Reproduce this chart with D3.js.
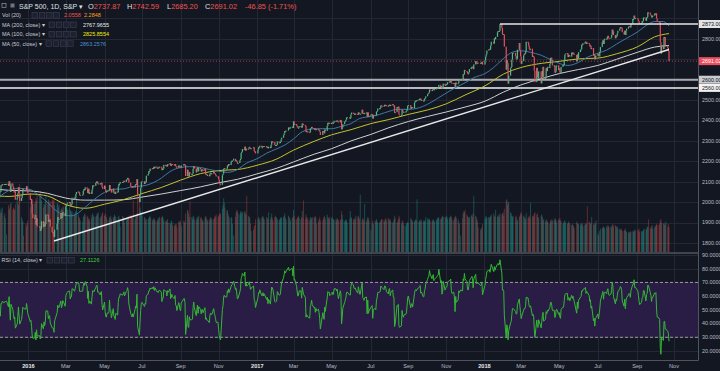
<!DOCTYPE html>
<html>
<head>
<meta charset="utf-8">
<script src="https://cdn.jsdelivr.net/npm/d3@7"></script>
<style>
  html, body { margin: 0; padding: 0; background: #131722; overflow: hidden; }
  svg { display: block; font-family: "Liberation Sans", Arial, sans-serif; }
</style>
</head>
<body>
<svg id="chart" width="720" height="371"></svg>
<script>
// daily closes, one row per week (Mon..Fri), null = market holiday
const closes2015 = [ // from 2015-10-26
    2071, 2066, 2090, 2089, 2079,
    2104, 2109, 2102, 2099, 2099,
    2078, 2081, 2076, 2045, 2023,
    2053, 2051, 2083, 2082, 2089,
    2086, 2089, 2089, null, 2090,
    2080, 2103, 2079, 2050, 2092,
    2077, 2063, 2048, 2053, 2012,
    2022, 2043, 2073, 2041, 2006,
    2021, 2038, 2064, 2061, null,
    2057, 2078, 2064, 2044
];
const closes2016 = [ // from 2016-01-01
    null,
    2012, 2016, 1990, 1943, 1922,
    1923, 1938, 1890, 1921, 1880,
    null, 1881, 1859, 1869, 1907,
    1878, 1903, 1882, 1893, 1940,
    1939, 1903, 1913, 1915, 1880,
    1853, 1852, 1851, 1829, 1865,
    null, 1895, 1927, 1918, 1918,
    1946, 1921, 1929, 1951, 1948,
    1932, 1978, 1987, 1994, 1999,
    2001, 1980, 1989, 1989, 2022,
    2019, 2016, 2027, 2040, 2050,
    2052, 2049, 2036, 2036, null,
    2037, 2055, 2064, 2060, 2073,
    2066, 2045, 2066, 2041, 2048,
    2041, 2062, 2082, 2082, 2080,
    2094, 2100, 2102, 2091, 2092,
    2087, 2092, 2095, 2075, 2065,
    2081, 2063, 2051, 2050, 2057,
    2058, 2084, 2064, 2064, 2047,
    2066, 2047, 2047, 2040, 2052,
    2048, 2076, 2090, 2090, 2099,
    null, 2097, 2100, 2105, 2099,
    2110, 2112, 2119, 2115, 2096,
    2079, 2075, 2072, 2077, 2071,
    2083, 2089, 2086, 2113, 2038,
    2001, 2037, 2071, 2099, 2103,
    null, 2089, 2100, 2098, 2130,
    2138, 2152, 2152, 2164, 2162,
    2167, 2164, 2173, 2166, 2175,
    2168, 2169, 2167, 2171, 2174,
    2171, 2157, 2164, 2164, 2183,
    2181, 2181, 2175, 2186, 2184,
    2191, 2179, 2182, 2187, 2184,
    2182, 2187, 2176, 2175, 2169,
    2180, 2177, 2171, 2170, 2180,
    null, 2186, 2186, 2182, 2128,
    2159, 2127, 2126, 2147, 2139,
    2139, 2140, 2164, 2177, 2165,
    2146, 2160, 2171, 2151, 2168,
    2161, 2150, 2160, 2160, 2153,
    2164, 2136, 2139, 2133, 2133,
    2127, 2140, 2144, 2141, 2141,
    2151, 2143, 2139, 2133, 2126,
    2126, 2111, 2097, 2088, 2085,
    2132, 2140, 2163, 2167, 2164,
    2164, 2180, 2177, 2187, 2182,
    2198, 2203, 2204, null, 2213,
    2202, 2205, 2199, 2191, 2192,
    2205, 2212, 2241, 2246, 2260,
    2257, 2272, 2253, 2262, 2258,
    2263, 2271, 2266, 2261, 2264,
    null, 2269, 2250, 2249, 2239
];
const closes2017 = [ // from 2017-01-02
    null, 2258, 2270, 2269, 2277,
    2269, 2269, 2275, 2271, 2275,
    null, 2268, 2272, 2264, 2271,
    2265, 2281, 2298, 2297, 2295,
    2280, 2279, 2280, 2281, 2297,
    2293, 2293, 2295, 2307, 2316,
    2328, 2337, 2349, 2347, 2351,
    null, 2366, 2363, 2364, 2367,
    2370, 2364, 2396, 2381, 2383,
    2375, 2368, 2363, 2365, 2373,
    2373, 2365, 2386, 2382, 2378,
    2374, 2344, 2348, 2346, 2344,
    2342, 2359, 2362, 2369, 2363,
    2359, 2360, 2353, 2358, 2355,
    2357, 2353, 2345, 2329, null,
    2349, 2342, 2338, 2356, 2349,
    2374, 2389, 2388, 2389, 2384,
    2388, 2391, 2388, 2389, 2399,
    2399, 2397, 2400, 2395, 2391,
    2403, 2400, 2357, 2366, 2382,
    2394, 2398, 2404, 2415, 2416,
    null, 2412, 2412, 2430, 2439,
    2437, 2433, 2433, 2434, 2432,
    2429, 2440, 2437, 2433, 2433,
    2453, 2437, 2436, 2434, 2438,
    2439, 2419, 2440, 2419, 2423,
    2429, null, 2432, 2410, 2425,
    2427, 2425, 2443, 2447, 2459,
    2460, 2461, 2474, 2473, 2472,
    2470, 2477, 2477, 2475, 2472,
    2470, 2476, 2478, 2472, 2476,
    2480, 2474, 2474, 2438, 2441,
    2466, 2465, 2468, 2430, 2426,
    2428, 2453, 2444, 2439, 2443,
    2444, 2446, 2457, 2472, 2476,
    null, 2458, 2465, 2466, 2461,
    2488, 2496, 2498, 2496, 2500,
    2503, 2506, 2508, 2500, 2502,
    2497, 2497, 2507, 2510, 2519,
    2529, 2534, 2537, 2552, 2549,
    2545, 2551, 2555, 2550, 2553,
    2557, 2559, 2561, 2562, 2575,
    2565, 2569, 2557, 2560, 2581,
    2572, 2575, 2579, 2579, 2588,
    2591, 2591, 2594, 2585, 2582,
    2584, 2579, 2565, 2586, 2579,
    2583, 2599, 2597, null, 2602,
    2601, 2628, 2626, 2648, 2642,
    2639, 2630, 2629, 2637, 2652,
    2660, 2664, 2662, 2652, 2675,
    2691, 2681, 2679, 2684, 2683,
    null, 2680, 2682, 2688, 2674
];
const closes2018 = [ // from 2018-01-01
    null, 2696, 2713, 2724, 2743,
    2748, 2751, 2748, 2767, 2786,
    null, 2777, 2803, 2798, 2810,
    2833, 2839, 2837, 2839, 2873,
    2853, 2823, 2824, 2821, 2762,
    2649, 2695, 2681, 2581, 2620,
    2656, 2662, 2698, 2731, 2732,
    null, 2716, 2702, 2703, 2747,
    2780, 2744, 2714, 2678, 2691,
    2720, 2728, 2727, 2739, 2786,
    2783, 2765, 2749, 2747, 2752,
    2712, 2717, 2711, 2644, 2588,
    2658, 2613, 2605, 2641, null,
    2582, 2614, 2644, 2663, 2604,
    2613, 2656, 2642, 2663, 2657,
    2678, 2706, 2708, 2693, 2670,
    2670, 2635, 2639, 2667, 2670,
    2648, 2655, 2636, 2630, 2663,
    2672, 2672, 2697, 2723, 2728,
    2730, 2711, 2722, 2720, 2713,
    2733, 2725, 2733, 2727, 2721,
    null, 2690, 2724, 2705, 2735,
    2747, 2749, 2772, 2771, 2779,
    2782, 2787, 2775, 2782, 2780,
    2774, 2763, 2767, 2750, 2755,
    2718, 2724, 2700, 2716, 2718,
    2727, 2714, null, 2737, 2760,
    2784, 2793, 2775, 2798, 2801,
    2798, 2809, 2815, 2804, 2802,
    2806, 2820, 2846, 2838, 2819,
    2803, 2816, 2813, 2827, 2840,
    2850, 2858, 2857, 2853, 2833,
    2822, 2840, 2819, 2840, 2850,
    2858, 2863, 2861, 2856, 2875,
    2897, 2897, 2914, 2901, 2902,
    null, 2896, 2888, 2878, 2872,
    2877, 2887, 2888, 2904, 2905,
    2889, 2904, 2907, 2930, 2929,
    2919, 2915, 2905, 2914, 2914,
    2924, 2923, 2925, 2901, 2886,
    2884, 2881, 2785, 2728, 2767,
    2750, 2809, 2809, 2768, 2768,
    2756, 2741, 2691.02
];

// daily volume, tenths of a billion, same layout as the closes
const volumes2015 = [
    31, 34, 37, 36, 38,
    34, 36, 35, 33, 35,
    33, 32, 35, 36, 38,
    35, 33, 37, 34, 38,
    31, 33, 29, null, 15,
    40, 36, 38, 41, 42,
    36, 38, 37, 36, 41,
    45, 42, 40, 44, 58,
    30, 28, 26, 14, null,
    24, 22, 25, 27
];
const volumes2016 = [
    null,
    38, 43, 42, 45, 44,
    41, 43, 46, 44, 50,
    null, 47, 52, 48, 44,
    38, 41, 40, 43, 48,
    42, 45, 44, 41, 43,
    44, 47, 43, 45, 40,
    null, 41, 42, 38, 40,
    36, 37, 38, 36, 39,
    42, 41, 38, 37, 36,
    38, 36, 35, 33, 35,
    33, 31, 34, 35, 48,
    32, 30, 29, 27, null,
    26, 30, 31, 33, 32,
    30, 31, 28, 29, 27,
    29, 32, 33, 30, 31,
    30, 31, 33, 32, 34,
    29, 30, 31, 33, 34,
    31, 33, 32, 30, 28,
    27, 30, 29, 31, 28,
    30, 29, 32, 31, 30,
    26, 30, 31, 28, 22,
    null, 31, 30, 29, 25,
    27, 28, 30, 29, 31,
    32, 30, 31, 29, 44,
    28, 30, 31, 33, 52,
    44, 38, 35, 34, 31,
    null, 30, 29, 27, 28,
    28, 29, 30, 31, 29,
    27, 28, 29, 28, 27,
    26, 27, 29, 28, 30,
    29, 30, 31, 29, 27,
    26, 27, 26, 28, 25,
    25, 24, 27, 26, 23,
    22, 24, 23, 24, 21,
    26, 25, 27, 26, 22,
    null, 27, 25, 26, 33,
    36, 35, 33, 30, 43,
    30, 28, 31, 30, 28,
    27, 29, 30, 28, 31,
    29, 30, 28, 27, 26,
    29, 31, 30, 28, 27,
    28, 27, 30, 29, 28,
    28, 29, 31, 30, 32,
    30, 31, 33, 32, 33,
    37, 40, 46, 42, 38,
    35, 36, 33, 31, 29,
    30, 29, 24, null, 14,
    30, 34, 36, 35, 33,
    32, 34, 35, 33, 34,
    34, 35, 33, 32, 48,
    31, 30, 29, 24, 18,
    null, 19, 22, 23, 28
];
const volumes2017 = [
    null, 28, 30, 29, 27,
    29, 30, 31, 29, 28,
    null, 30, 29, 28, 34,
    28, 30, 33, 29, 27,
    30, 31, 30, 29, 28,
    27, 28, 29, 30, 29,
    30, 31, 33, 29, 28,
    null, 31, 30, 29, 27,
    29, 30, 36, 31, 28,
    28, 29, 30, 31, 29,
    28, 30, 35, 29, 44,
    28, 32, 30, 29, 28,
    27, 30, 28, 29, 30,
    29, 30, 31, 29, 24,
    26, 28, 30, 27, null,
    27, 29, 31, 30, 28,
    32, 30, 29, 28, 30,
    29, 30, 28, 28, 27,
    28, 27, 29, 28, 27,
    27, 28, 35, 32, 28,
    26, 27, 28, 27, 25,
    null, 28, 35, 30, 29,
    28, 27, 29, 28, 31,
    30, 31, 29, 28, 49,
    27, 29, 28, 27, 41,
    26, 28, 30, 29, 27,
    19, null, 25, 27, 24,
    26, 27, 28, 26, 25,
    25, 26, 27, 28, 28,
    27, 26, 28, 29, 27,
    29, 28, 27, 28, 26,
    25, 26, 28, 31, 29,
    25, 26, 28, 31, 29,
    24, 26, 27, 25, 23,
    22, 24, 25, 26, 25,
    null, 29, 28, 27, 26,
    26, 27, 28, 27, 45,
    26, 27, 26, 28, 27,
    26, 27, 26, 27, 30,
    28, 29, 27, 28, 27,
    26, 27, 28, 27, 26,
    27, 28, 29, 30, 29,
    28, 29, 30, 31, 30,
    30, 29, 31, 30, 28,
    29, 30, 31, 30, 28,
    27, 29, 30, 31, 29,
    28, 26, 24, null, 14,
    29, 33, 35, 34, 36,
    32, 31, 30, 29, 30,
    31, 32, 30, 33, 48,
    31, 30, 28, 26, 21,
    null, 19, 20, 21, 24
];
const volumes2018 = [
    null, 28, 30, 31, 29,
    30, 29, 30, 31, 32,
    null, 33, 31, 30, 36,
    30, 31, 32, 30, 33,
    32, 33, 34, 31, 37,
    44, 45, 40, 43, 42,
    34, 33, 31, 30, 31,
    null, 30, 31, 28, 27,
    30, 31, 33, 34, 32,
    31, 30, 29, 28, 33,
    29, 30, 31, 29, 42,
    31, 30, 31, 33, 34,
    32, 33, 30, 29, null,
    31, 32, 30, 27, 28,
    26, 28, 27, 26, 25,
    24, 27, 26, 28, 27,
    27, 29, 28, 27, 25,
    28, 27, 29, 27, 26,
    24, 25, 26, 27, 25,
    24, 25, 26, 25, 24,
    23, 24, 23, 22, 20,
    null, 26, 25, 24, 24,
    23, 24, 25, 24, 22,
    23, 24, 25, 24, 39,
    26, 25, 24, 25, 30,
    24, 23, 25, 24, 27,
    16, 14, null, 18, 20,
    20, 21, 22, 21, 20,
    22, 21, 23, 22, 21,
    22, 21, 23, 24, 22,
    23, 22, 21, 22, 20,
    20, 19, 20, 19, 18,
    18, 19, 20, 18, 17,
    17, 16, 17, 18, 17,
    18, 17, 19, 18, 19,
    null, 19, 18, 20, 17,
    18, 17, 18, 19, 20,
    19, 20, 21, 22, 28,
    21, 20, 22, 23, 20,
    21, 22, 23, 24, 23,
    23, 24, 27, 28, 25,
    24, 25, 23, 24, 26,
    22, 24, 21
];
const yearStarts = ["2015-10-26", "2016-01-01", "2017-01-02", "2018-01-01"];

// moving averages
const ma50Points = [
    ["2015-11-16", 2027], ["2015-12-01", 2058], ["2015-12-15", 2068], ["2016-01-04", 2062],
    ["2016-01-15", 2040], ["2016-02-01", 1998], ["2016-02-16", 1955], ["2016-03-01", 1936],
    ["2016-03-10", 1933], ["2016-04-01", 1975], ["2016-04-15", 2012], ["2016-05-02", 2048],
    ["2016-05-16", 2063], ["2016-06-01", 2065], ["2016-06-15", 2076], ["2016-07-01", 2079],
    ["2016-07-15", 2090], ["2016-08-01", 2118], ["2016-08-15", 2150], ["2016-09-01", 2170],
    ["2016-09-15", 2174], ["2016-10-03", 2170], ["2016-10-17", 2160], ["2016-11-01", 2152],
    ["2016-11-15", 2146], ["2016-12-01", 2160], ["2016-12-15", 2190], ["2017-01-03", 2215],
    ["2017-01-17", 2240], ["2017-02-01", 2260], ["2017-02-15", 2280], ["2017-03-01", 2310],
    ["2017-03-15", 2345], ["2017-04-03", 2360], ["2017-04-17", 2360], ["2017-05-01", 2360],
    ["2017-05-15", 2370], ["2017-06-01", 2385], ["2017-06-15", 2410], ["2017-07-03", 2420],
    ["2017-07-17", 2430], ["2017-08-01", 2445], ["2017-08-15", 2455], ["2017-09-01", 2455],
    ["2017-09-15", 2460], ["2017-10-02", 2480], ["2017-10-16", 2505], ["2017-11-01", 2535],
    ["2017-11-15", 2560], ["2017-12-01", 2585], ["2017-12-15", 2610], ["2018-01-02", 2630],
    ["2018-01-16", 2660], ["2018-02-01", 2705], ["2018-02-15", 2735], ["2018-03-01", 2742],
    ["2018-03-15", 2735], ["2018-04-02", 2720], ["2018-04-16", 2700], ["2018-05-01", 2680],
    ["2018-05-15", 2670], ["2018-06-01", 2685], ["2018-06-15", 2710], ["2018-07-02", 2730],
    ["2018-07-16", 2745], ["2018-08-01", 2775], ["2018-08-15", 2800], ["2018-09-04", 2835],
    ["2018-09-17", 2865], ["2018-10-01", 2885], ["2018-10-15", 2885], ["2018-10-24", 2863]
];
const ma100Points = [
    ["2015-11-16", 2030], ["2015-12-01", 2028], ["2016-01-04", 2040], ["2016-02-01", 2030],
    ["2016-03-01", 1988], ["2016-04-01", 1970], ["2016-05-02", 1990], ["2016-06-01", 2012],
    ["2016-07-01", 2042], ["2016-08-01", 2072], ["2016-09-01", 2108], ["2016-10-03", 2140],
    ["2016-11-01", 2155], ["2016-12-01", 2160], ["2017-01-03", 2182], ["2017-02-01", 2210],
    ["2017-03-01", 2255], ["2017-04-03", 2298], ["2017-05-01", 2330], ["2017-06-01", 2355],
    ["2017-07-03", 2385], ["2017-08-01", 2405], ["2017-09-01", 2430], ["2017-10-02", 2452],
    ["2017-11-01", 2482], ["2017-12-01", 2525], ["2018-01-02", 2570], ["2018-02-01", 2628],
    ["2018-03-01", 2660], ["2018-04-02", 2680], ["2018-05-01", 2690], ["2018-06-01", 2702],
    ["2018-07-02", 2706], ["2018-08-01", 2727], ["2018-09-04", 2762], ["2018-10-01", 2810],
    ["2018-10-24", 2826]
];
const ma200Points = [
    ["2015-11-16", 2062], ["2015-12-01", 2058], ["2016-01-04", 2055], ["2016-02-01", 2043],
    ["2016-03-01", 2020], ["2016-04-01", 2010], ["2016-05-02", 2010], ["2016-06-01", 2012],
    ["2016-07-01", 2025], ["2016-08-01", 2040], ["2016-09-01", 2057], ["2016-10-03", 2075],
    ["2016-11-01", 2095], ["2016-12-01", 2112], ["2017-01-03", 2140], ["2017-02-01", 2165],
    ["2017-03-01", 2197], ["2017-04-03", 2235], ["2017-05-01", 2262], ["2017-06-01", 2300],
    ["2017-07-03", 2332], ["2017-08-01", 2365], ["2017-09-01", 2395], ["2017-10-02", 2420],
    ["2017-11-01", 2442], ["2017-12-01", 2466], ["2018-01-02", 2495], ["2018-02-01", 2540],
    ["2018-03-01", 2575], ["2018-04-02", 2605], ["2018-05-01", 2630], ["2018-06-01", 2650],
    ["2018-07-02", 2670], ["2018-08-01", 2700], ["2018-09-04", 2735], ["2018-10-01", 2760],
    ["2018-10-24", 2768]
];

// drawings
const trendAnchors = [["2016-02-11", 1810], ["2018-04-02", 2553]];
const trendEnd = "2018-10-24";
const topLine = { from: "2018-01-26", price: 2873 };
const fullLines = [2600, 2560];
const lastPrice = 2691.02;

// axes
const monthTicks = ["2016-01", "2016-03", "2016-05", "2016-07", "2016-09", "2016-11",
    "2017-01", "2017-03", "2017-05", "2017-07", "2017-09", "2017-11",
    "2018-01", "2018-03", "2018-05", "2018-07", "2018-09", "2018-11"];
const priceTicks = [1800, 1900, 2000, 2100, 2200, 2300, 2400, 2500, 2600, 2700, 2800, 2900];
const rsiTicks = [20, 30, 40, 50, 60, 70, 80, 90];

// legend texts
const ohlc = [["O", "2737.87"], ["H", "2742.59"], ["L", "2685.20"], ["C", "2691.02"]];
const change = "-46.85 (-1.71%)";
const legendRows = [
    { label: "Vol (20)", values: [["2.0558", "#ef5350"], ["2.2848", "#ff9f1a"]] },
    { label: "MA (200, close) \u25BE", values: [["2767.9655", "#e8e8e8"]] },
    { label: "MA (100, close) \u25BE", values: [["2825.8554", "#f0f000"]] },
    { label: "MA (50, close) \u25BE", values: [["2863.2576", "#4a8fd0"]] }
];
const rsiLabel = "RSI (14, close) \u25BE";
const rsiValue = "27.1126";

const W = 720, H = 371;
const plotRight = 698;
const priceBottom = 253, rsiTop = 253, rsiBottom = 360;

const upColor = "#53b987", downColor = "#eb4d5c";
const gridColor = "#242835";
const axisText = "#b8bcc6";

const parseDate = d3.timeParse("%Y-%m-%d");

function weekdays(start, n) {
    const days = [];
    let d = parseDate(start);
    while (days.length < n) {
        if (d.getDay() % 6 !== 0) days.push(d);
        d = d3.timeDay.offset(d, 1);
    }
    return days;
}

// build bars
const closesByYear = [closes2015, closes2016, closes2017, closes2018];
const volumesByYear = [volumes2015, volumes2016, volumes2017, volumes2018];
const bars = [];
closesByYear.forEach((closes, k) => {
    const days = weekdays(yearStarts[k], closes.length);
    closes.forEach((c, i) => {
        if (c === null) return;
        bars.push({ date: days[i], close: c, volume: volumesByYear[k][i] });
    });
});
bars.forEach((b, i) => { b.open = i ? bars[i - 1].close : b.close; });

// RSI 14 (Wilder)
let avgGain = 0, avgLoss = 0;
const rsi = [];
for (let i = 1; i < bars.length; i++) {
    const ch = bars[i].close - bars[i - 1].close;
    const g = Math.max(ch, 0), l = Math.max(-ch, 0);
    if (i <= 14) {
        avgGain += g / 14;
        avgLoss += l / 14;
        if (i < 14) continue;
    } else {
        avgGain = (avgGain * 13 + g) / 14;
        avgLoss = (avgLoss * 13 + l) / 14;
    }
    rsi.push({ date: bars[i].date, value: avgLoss === 0 ? 100 : 100 - 100 / (1 + avgGain / avgLoss) });
}

// scales
const x = d3.scaleTime()
    .domain([parseDate("2016-01-04"), parseDate("2018-11-01")])
    .range([30.3, 674]);
const y = d3.scaleLinear().domain([1800, 2873]).range([243, 24]);
const yVol = d3.scaleLinear().domain([0, 50]).range([252, 193.5]);
const yRsi = d3.scaleLinear().domain([20, 90]).range([351, 255]);

const svg = d3.select("#chart");
svg.append("rect").attr("width", W).attr("height", H).attr("fill", "#131722");

const defs = svg.append("defs");
defs.append("clipPath").attr("id", "clip-price")
    .append("rect").attr("x", 0).attr("y", 0).attr("width", plotRight).attr("height", priceBottom);
defs.append("clipPath").attr("id", "clip-rsi")
    .append("rect").attr("x", 0).attr("y", rsiTop).attr("width", plotRight).attr("height", rsiBottom - rsiTop);

// first weekday of each tick month
const tickDates = monthTicks.map(m => {
    let d = parseDate(m + "-01");
    while (d.getDay() % 6 === 0) d = d3.timeDay.offset(d, 1);
    return d;
});

// grid
const grid = svg.append("g").attr("stroke", gridColor).attr("stroke-width", 1);
grid.selectAll(".vg").data(tickDates).enter().append("line")
    .attr("x1", d => Math.round(x(d)) + 0.5).attr("x2", d => Math.round(x(d)) + 0.5)
    .attr("y1", 0).attr("y2", rsiBottom);
grid.selectAll(".hg").data(priceTicks).enter().append("line")
    .attr("x1", 0).attr("x2", plotRight)
    .attr("y1", d => Math.round(y(d)) + 0.5).attr("y2", d => Math.round(y(d)) + 0.5);
grid.selectAll(".rg").data(rsiTicks).enter().append("line")
    .attr("x1", 0).attr("x2", plotRight)
    .attr("y1", d => Math.round(yRsi(d)) + 0.5).attr("y2", d => Math.round(yRsi(d)) + 0.5);

// price pane
const price = svg.append("g").attr("clip-path", "url(#clip-price)");

price.selectAll(".vol").data(bars).enter().append("rect")
    .attr("x", d => x(d.date) - 0.5)
    .attr("width", 1)
    .attr("y", d => yVol(d.volume))
    .attr("height", d => yVol(0) - yVol(d.volume))
    .attr("fill", d => d.close >= d.open ? "rgba(38,166,154,0.38)" : "rgba(239,83,80,0.34)");

// horizontal levels
price.append("line")
    .attr("x1", 0).attr("x2", plotRight)
    .attr("y1", y(fullLines[0])).attr("y2", y(fullLines[0]))
    .attr("stroke", "#a9abb0").attr("stroke-width", 2);
price.append("line")
    .attr("x1", 0).attr("x2", plotRight)
    .attr("y1", y(fullLines[1])).attr("y2", y(fullLines[1]))
    .attr("stroke", "#f2f2f2").attr("stroke-width", 1.5);
price.append("line")
    .attr("x1", 0).attr("x2", plotRight)
    .attr("y1", y(lastPrice)).attr("y2", y(lastPrice))
    .attr("stroke", downColor).attr("stroke-width", 1)
    .attr("stroke-dasharray", "1,2").attr("opacity", 0.7);

// moving averages
const maLine = d3.line()
    .x(d => x(parseDate(d[0])))
    .y(d => y(d[1]))
    .curve(d3.curveMonotoneX);
[[ma200Points, "#cfcfd2"], [ma100Points, "#c4c22c"], [ma50Points, "#3b7aa6"]].forEach(([pts, col]) => {
    price.append("path").attr("d", maLine(pts))
        .attr("fill", "none").attr("stroke", col).attr("stroke-width", 1);
});

// candles
price.selectAll(".candle").data(bars).enter().append("rect")
    .attr("x", d => x(d.date) - 0.6)
    .attr("width", 1.2)
    .attr("y", d => y(Math.max(d.open, d.close)))
    .attr("height", d => Math.max(1, Math.abs(y(d.open) - y(d.close))))
    .attr("fill", d => d.close >= d.open ? upColor : downColor);

// trendline through the two lows
const t0 = parseDate(trendAnchors[0][0]), t1 = parseDate(trendAnchors[1][0]);
const slope = (trendAnchors[1][1] - trendAnchors[0][1]) / (t1 - t0);
const tEnd = parseDate(trendEnd);
price.append("line")
    .attr("x1", x(t0)).attr("y1", y(trendAnchors[0][1]))
    .attr("x2", x(tEnd)).attr("y2", y(trendAnchors[0][1] + slope * (tEnd - t0)))
    .attr("stroke", "#e8e8e8").attr("stroke-width", 1.4);

// top resistance line from the January high
price.append("line")
    .attr("x1", x(parseDate(topLine.from))).attr("x2", plotRight)
    .attr("y1", y(topLine.price)).attr("y2", y(topLine.price))
    .attr("stroke", "#e6e6e6").attr("stroke-width", 1.5);

// RSI pane
const rsiG = svg.append("g").attr("clip-path", "url(#clip-rsi)");
rsiG.append("rect")
    .attr("x", 0).attr("width", plotRight)
    .attr("y", yRsi(70)).attr("height", yRsi(30) - yRsi(70))
    .attr("fill", "#2a1d45");
[70, 30].forEach(v => {
    rsiG.append("line")
        .attr("x1", 0).attr("x2", plotRight)
        .attr("y1", yRsi(v)).attr("y2", yRsi(v))
        .attr("stroke", "#b9b9c4").attr("stroke-width", 0.8)
        .attr("stroke-dasharray", "3,2");
});
rsiG.append("path")
    .datum(rsi)
    .attr("d", d3.line().x(d => x(d.date)).y(d => yRsi(d.value)))
    .attr("fill", "none").attr("stroke", "#33b833").attr("stroke-width", 1);

// separators and axis lines
svg.append("line").attr("x1", 0).attr("x2", plotRight)
    .attr("y1", priceBottom).attr("y2", priceBottom)
    .attr("stroke", "#50545f").attr("stroke-width", 1.5);
svg.append("line").attr("x1", 0).attr("x2", plotRight + 0.5)
    .attr("y1", rsiBottom + 0.5).attr("y2", rsiBottom + 0.5)
    .attr("stroke", "#50545f").attr("stroke-width", 1);
svg.append("line").attr("x1", plotRight + 0.5).attr("x2", plotRight + 0.5)
    .attr("y1", 0).attr("y2", rsiBottom + 0.5)
    .attr("stroke", "#50545f").attr("stroke-width", 1);

// right price axis labels
const boxes = [
    { v: topLine.price, bg: "#e4e4e4", fg: "#131722" },
    { v: lastPrice, bg: downColor, fg: "#ffffff" },
    { v: fullLines[0], bg: "#c9cbd0", fg: "#131722" },
    { v: fullLines[1], bg: "#f2f2f2", fg: "#131722" }
];
const axisG = svg.append("g").attr("font-size", 5.4);
axisG.selectAll(".pt")
    .data(priceTicks.filter(t => boxes.every(b => Math.abs(y(b.v) - y(t)) > 7)))
    .enter().append("text")
    .attr("x", plotRight + 4).attr("y", d => y(d))
    .attr("dy", "0.35em").attr("fill", axisText)
    .text(d => d3.format(".2f")(d));
boxes.forEach(b => {
    axisG.append("rect")
        .attr("x", plotRight + 1).attr("y", y(b.v) - 4)
        .attr("width", W - plotRight - 1).attr("height", 8)
        .attr("fill", b.bg);
    axisG.append("text")
        .attr("x", plotRight + 4).attr("y", y(b.v))
        .attr("dy", "0.35em").attr("fill", b.fg)
        .text(d3.format(".2f")(b.v));
});
axisG.selectAll(".rt").data(rsiTicks).enter().append("text")
    .attr("x", plotRight + 4).attr("y", d => yRsi(d))
    .attr("dy", "0.35em").attr("fill", axisText)
    .text(d => d3.format(".4f")(d));

// time axis labels
const monthFmt = d3.timeFormat("%b");
svg.append("g").attr("font-size", 5.6)
    .selectAll("text").data(tickDates).enter().append("text")
    .attr("x", d => x(d)).attr("y", 367.5)
    .attr("text-anchor", "middle")
    .attr("fill", d => d.getMonth() === 0 ? "#e6e8ec" : axisText)
    .attr("font-weight", d => d.getMonth() === 0 ? "bold" : "normal")
    .text(d => d.getMonth() === 0 ? d.getFullYear() : monthFmt(d));

// legend
const legend = svg.append("g");
legend.append("rect").attr("x", 2).attr("y", 3.5).attr("width", 4).attr("height", 4)
    .attr("fill", "none").attr("stroke", "#9598a1").attr("stroke-width", 0.7);
legend.append("rect").attr("x", 10.5).attr("y", 3.5).attr("width", 4).attr("height", 4)
    .attr("fill", "#6f737e");
legend.append("text").attr("x", 19).attr("y", 8.6)
    .attr("font-size", 7).attr("fill", "#dfe1e6")
    .text("S&P 500, 1D, S&P \u25BE");
const ohlcX = [88, 127, 167, 205];
ohlc.forEach(([k, v], i) => {
    const t = legend.append("text").attr("x", ohlcX[i]).attr("y", 8.6).attr("font-size", 7.4);
    t.append("tspan").attr("fill", "#dfe1e6").text(k);
    t.append("tspan").attr("fill", "#ef5350").text(v);
});
legend.append("text").attr("x", 245).attr("y", 8.6).attr("font-size", 7.4)
    .attr("fill", "#ef5350").text(change);

function iconRow(x0, yc) {
    for (let i = 0; i < 4; i++) {
        legend.append("rect")
            .attr("x", x0 + i * 7.2).attr("y", yc - 3).attr("width", 5.6).attr("height", 5.6)
            .attr("fill", "#1c2030").attr("stroke", "#3c4150").attr("stroke-width", 0.6);
    }
}
const rowY = [15.5, 25, 34.4, 43.8];
const iconX = [32, 49, 49, 46];
const valueX = [[64, 84], [83], [83], [80]];
legendRows.forEach((row, r) => {
    legend.append("text").attr("x", 2).attr("y", rowY[r]).attr("dy", "0.35em")
        .attr("font-size", 5.5).attr("fill", "#c9ccd3").text(row.label);
    iconRow(iconX[r], rowY[r]);
    row.values.forEach(([txt, col], j) => {
        legend.append("text").attr("x", valueX[r][j]).attr("y", rowY[r]).attr("dy", "0.35em")
            .attr("font-size", 5.5).attr("fill", col).text(txt);
    });
});
legend.append("text").attr("x", 1.5).attr("y", 260.5).attr("dy", "0.35em")
    .attr("font-size", 5.5).attr("fill", "#c9ccd3").text(rsiLabel);
iconRow(47, 260.5);
legend.append("text").attr("x", 80).attr("y", 260.5).attr("dy", "0.35em")
    .attr("font-size", 5.5).attr("fill", "#3fd13f").text(rsiValue);
</script>
</body>
</html>
